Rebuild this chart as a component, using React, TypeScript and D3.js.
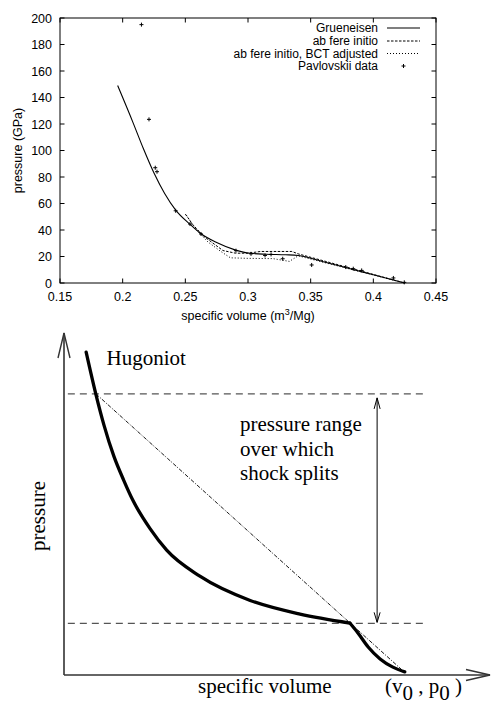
import React from 'react';
import * as d3 from 'd3';

// ---------- top chart data ----------
const xTicks = [0.15, 0.2, 0.25, 0.3, 0.35, 0.4, 0.45];
const yTicks = [0, 20, 40, 60, 80, 100, 120, 140, 160, 180, 200];

const gruV = [0.196, 0.2085, 0.2165, 0.225, 0.2335, 0.2423, 0.2537, 0.2617, 0.275, 0.2896, 0.3016, 0.315, 0.33, 0.34, 0.36, 0.38, 0.40, 0.425];
const gruP = [149, 120.5, 101.5, 83, 67.5, 55, 44.3, 37.7, 30.5, 25, 22.4, 21.7, 21.3, 20.8, 16.1, 11.1, 6.2, 0];

const abV = [0.25, 0.256, 0.265, 0.28, 0.29, 0.3, 0.31, 0.335, 0.34, 0.425];
const abP = [52, 44, 35, 24.5, 22.5, 22.5, 23.8, 23.8, 22, 0];

const bctV = [0.251, 0.258, 0.268, 0.278, 0.286, 0.3, 0.32, 0.333, 0.34, 0.425];
const bctP = [51, 41, 31, 24, 19, 18.6, 18.4, 16.3, 20.5, 0];

const pavV = [0.215, 0.221, 0.226, 0.2274, 0.2423, 0.2537, 0.2625, 0.2904, 0.3024, 0.3136, 0.3184, 0.3277, 0.3508, 0.378, 0.384, 0.3907, 0.416, 0.4247];
const pavP = [195, 123.5, 87, 84, 54.5, 44.5, 37, 24.4, 22, 20.8, 21.6, 18.3, 13.6, 12, 10.8, 9.5, 3.8, 0.5];

const legendLabels = ['Grueneisen', 'ab fere initio', 'ab fere initio, BCT adjusted', 'Pavlovskii data'];

// ---------- bottom schematic data (arbitrary units 0..100) ----------
const hugUpperV = [5.2, 7.5, 9.4, 11.7, 14, 16.2, 20.2, 24.1, 31.9, 43.7, 55.4, 67.1];
const hugUpperP = [94.4, 82.0, 73.0, 64.0, 57.0, 51.0, 42.8, 36.5, 28.9, 21.8, 17.8, 15.2];
const hugLowerV = [67.1, 69.0, 71.4, 74.2, 77.2, 80.0];
const hugLowerP = [15.2, 12.3, 8.2, 4.7, 2.3, 0.9];
const rayleighV = [7.5, 79.6];
const rayleighP = [82.2, 1.2];
const levelP = [82.2, 15.1];
const levelV = [0.9, 85.1];
const rangeV = 73.5;

const SANS = 'Liberation Sans, Arial, Helvetica, sans-serif';
const SERIF = 'Liberation Serif, Times New Roman, serif';

export default function App() {
  const x = d3.scaleLinear().domain([0.15, 0.45]).range([60, 436]);
  const y = d3.scaleLinear().domain([0, 200]).range([283, 18]);
  const mk = (xs: number[], ys: number[], curve: any = d3.curveMonotoneX) =>
    d3.line<number>().x((_, i) => x(xs[i])).y((_, i) => y(ys[i])).curve(curve)(xs) || '';

  const hx = d3.scaleLinear().domain([0, 100]).range([64, 490]);
  const hy = d3.scaleLinear().domain([0, 100]).range([675, 333]);
  const hmk = (xs: number[], ys: number[]) =>
    d3.line<number>().x((_, i) => hx(xs[i])).y((_, i) => hy(ys[i])).curve(d3.curveMonotoneX)(xs) || '';

  const [x0, x1] = x.range();
  const [y0, y1] = y.range();
  const tl = 4.5;
  const legX0 = 387, legX1 = 420, legTextX = 378;
  const legRows = [28, 41, 53.5, 66];
  const dashes = [undefined, '2.5,1.5', '1,2'];

  const ax0 = hx(0), ay0 = hy(0), axTop = hy(100), axRight = hx(100);
  const arrX = hx(rangeV);
  const topY = hy(levelP[0]);
  const botY = hy(levelP[1]);

  return (
    <svg width={491} height={715} style={{ position: 'absolute', left: 0, top: 0, background: '#fff' }}>
      {/* ---------- top chart ---------- */}
      <g fontFamily={SANS} fontSize={12.5} fill="#000">
        {xTicks.map((t) => (
          <g key={'xt' + t}>
            <line x1={x(t)} x2={x(t)} y1={y0} y2={y0 - tl} stroke="#000" />
            <line x1={x(t)} x2={x(t)} y1={y1} y2={y1 + tl} stroke="#000" />
            <text x={x(t)} y={301} textAnchor="middle">{String(t)}</text>
          </g>
        ))}
        {yTicks.map((t) => (
          <g key={'yt' + t}>
            <line x1={x0} x2={x0 + tl} y1={y(t)} y2={y(t)} stroke="#000" />
            <line x1={x1} x2={x1 - tl} y1={y(t)} y2={y(t)} stroke="#000" />
            <text x={52} y={y(t) + 4.5} textAnchor="end">{String(t)}</text>
          </g>
        ))}
        <rect x={x0} y={y1} width={x1 - x0} height={y0 - y1} fill="none" stroke="#000" strokeWidth={1} />
        <text x={(x0 + x1) / 2} y={319.5} textAnchor="middle">
          specific volume (m<tspan dy={-5} fontSize={9}>3</tspan><tspan dy={5}>/Mg)</tspan>
        </text>
        <text transform={`translate(22,${(y0 + y1) / 2}) rotate(-90)`} textAnchor="middle">pressure (GPa)</text>

        <path d={mk(gruV, gruP)} fill="none" stroke="#000" strokeWidth={1.1} />
        <path d={mk(abV, abP, d3.curveLinear)} fill="none" stroke="#000" strokeWidth={1} strokeDasharray="2.5,1.5" />
        <path d={mk(bctV, bctP, d3.curveLinear)} fill="none" stroke="#000" strokeWidth={1} strokeDasharray="1,2" />
        {pavV.map((v, i) => (
          <g key={'p' + i} stroke="#000" strokeWidth={1}>
            <line x1={x(v) - 2} x2={x(v) + 2} y1={y(pavP[i])} y2={y(pavP[i])} />
            <line x1={x(v)} x2={x(v)} y1={y(pavP[i]) - 2} y2={y(pavP[i]) + 2} />
          </g>
        ))}

        {legendLabels.map((l, i) => (
          <g key={'lg' + i}>
            <text x={legTextX} y={legRows[i] + 4} textAnchor="end" fontSize={12}>{l}</text>
            {i < 3 ? (
              <line x1={legX0} x2={legX1} y1={legRows[i]} y2={legRows[i]} stroke="#000" strokeWidth={i === 0 ? 1.1 : 1} strokeDasharray={dashes[i]} />
            ) : (
              <g stroke="#000">
                <line x1={403.5 - 2} x2={403.5 + 2} y1={legRows[i]} y2={legRows[i]} />
                <line x1={403.5} x2={403.5} y1={legRows[i] - 2} y2={legRows[i] + 2} />
              </g>
            )}
          </g>
        ))}
      </g>

      {/* ---------- bottom schematic ---------- */}
      <g fontFamily={SERIF} fontSize={21} fill="#000">
        <line x1={ax0} x2={ax0} y1={ay0} y2={axTop} stroke="#333" strokeWidth={1.6} />
        <polyline points={`${ax0 - 6},${axTop + 25} ${ax0},${axTop} ${ax0 + 6},${axTop + 25}`} fill="none" stroke="#333" strokeWidth={1.4} />
        <line x1={ax0} x2={axRight} y1={ay0} y2={ay0} stroke="#333" strokeWidth={1.6} />
        <polyline points={`${axRight - 24},${ay0 - 5.5} ${axRight},${ay0} ${axRight - 24},${ay0 + 5.5}`} fill="none" stroke="#333" strokeWidth={1.4} />

        {levelP.map((p, i) => (
          <line key={'lv' + i} x1={hx(levelV[0])} x2={hx(levelV[1])} y1={hy(p)} y2={hy(p)} stroke="#555" strokeWidth={1.1} strokeDasharray="7,5" />
        ))}

        <line x1={hx(rayleighV[0])} y1={hy(rayleighP[0])} x2={hx(rayleighV[1])} y2={hy(rayleighP[1])} stroke="#000" strokeWidth={0.9} strokeDasharray="4,1.5,1,1.5" />

        <path d={hmk(hugUpperV, hugUpperP)} fill="none" stroke="#000" strokeWidth={3.3} strokeLinecap="round" strokeLinejoin="round" />
        <path d={hmk(hugLowerV, hugLowerP)} fill="none" stroke="#000" strokeWidth={3.3} strokeLinecap="round" strokeLinejoin="round" />

        <line x1={arrX} x2={arrX} y1={topY + 4} y2={botY - 1} stroke="#000" strokeWidth={1} />
        <polyline points={`${arrX - 3},${topY + 15} ${arrX},${topY + 4} ${arrX + 3},${topY + 15}`} fill="none" stroke="#000" strokeWidth={1} />
        <polyline points={`${arrX - 3},${botY - 11} ${arrX},${botY - 1} ${arrX + 3},${botY - 11}`} fill="none" stroke="#000" strokeWidth={1} />

        <text x={106.5} y={365}>Hugoniot</text>
        <text x={240} y={431}>pressure range</text>
        <text x={240} y={455.5}>over which</text>
        <text x={240} y={480}>shock splits</text>
        <text transform={`translate(45,516) rotate(-90)`} textAnchor="middle">pressure</text>
        <text x={198} y={693}>specific volume</text>
        <text x={385} y={693}>
          (v<tspan dy={7}>0</tspan><tspan dy={-7}> , p</tspan><tspan dy={7}>0</tspan><tspan dy={-7}> )</tspan>
        </text>
      </g>
    </svg>
  );
}
